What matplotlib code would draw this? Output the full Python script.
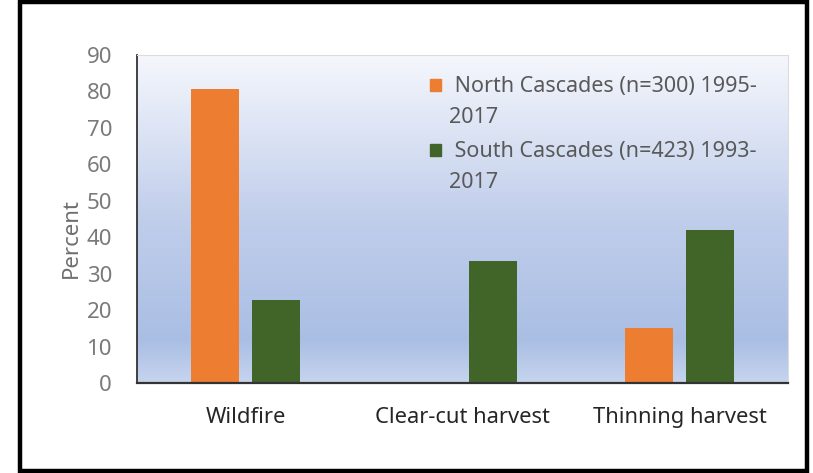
# Recreate: percent of disturbance type, North vs South Cascades
import numpy as np
import matplotlib
matplotlib.use("Agg")
import matplotlib.pyplot as plt
from matplotlib.colors import LinearSegmentedColormap
from matplotlib.patches import Rectangle

# --- Data ---
categories = ["Wildfire", "Clear-cut harvest", "Thinning harvest"]
north_vals = [80.7, 0, 15.2]
south_vals = [22.8, 33.4, 41.9]
north_label = " North Cascades (n=300) 1995-\n2017"
south_label = " South Cascades (n=423) 1993-\n2017"
y_ticks = [0, 10, 20, 30, 40, 50, 60, 70, 80, 90]

orange = "#ED7D31"
green = "#416428"

plt.rcParams['font.family'] = ['Noto Sans', 'DejaVu Sans']

fig = plt.figure(figsize=(8.13, 4.73), dpi=100)
W, H = 813, 473

# --- outer black frame ---
fig.patches.append(Rectangle((20 / W, 2.5 / H), 787 / W, 468.5 / H, transform=fig.transFigure,
                             fill=False, edgecolor="black", linewidth=3.2, zorder=0))

ax = fig.add_axes([137 / W, (H - 383) / H, (788 - 137) / W, (383 - 55) / H])

# --- gradient background ---
cmap = LinearSegmentedColormap.from_list("bg", [
    (0.00, (198/255, 212/255, 238/255)),
    (0.13, (170/255, 190/255, 228/255)),
    (0.50, (192/255, 206/255, 235/255)),
    (1.00, (245/255, 247/255, 252/255)),
])
grad = np.linspace(0, 1, 256).reshape(-1, 1)
ax.imshow(grad, aspect="auto", cmap=cmap, origin="lower",
          extent=[0, 1, 0, 1], transform=ax.transAxes, zorder=0)

# --- bars ---
x = np.arange(len(categories))
w = 0.22
off = 0.14
ax.bar(x - off, north_vals, w, color=orange, zorder=2)
ax.bar(x + off, south_vals, w, color=green, zorder=2)

ax.set_xlim(-0.5, 2.5)
ax.set_ylim(0, 90)
ax.set_yticks(y_ticks)
ax.set_xticks(x)
ax.set_xticklabels(categories, fontsize=15.8, color="#262626")
ax.tick_params(axis="y", length=0, pad=18, labelsize=16, labelcolor="#7a7a7a")
ax.tick_params(axis="x", length=0, pad=17)

ax.set_ylabel("Percent", fontsize=16, color="#6e6e6e")
ax.yaxis.set_label_coords(-0.085, 0.442)

# --- spines ---
for s in ["top", "right"]:
    ax.spines[s].set_color("#dcdcdc")
    ax.spines[s].set_linewidth(0.8)
ax.spines["left"].set_color("#333333")
ax.spines["bottom"].set_color("#333333")
ax.spines["left"].set_linewidth(1.3)
ax.spines["bottom"].set_linewidth(1.6)

# --- legend (manual) ---
legend_items = [(orange, north_label, 85), (green, south_label, 150)]
for col, lab, yc in legend_items:
    fig.patches.append(Rectangle((430 / W, (H - yc - 6) / H), 11 / W, 12 / H,
                                 transform=fig.transFigure, color=col, zorder=5))
    fig.text(449 / W, (H - yc - 17) / H, lab, fontsize=15.5, color="#595959",
             ha="left", va="center", linespacing=1.6,
             transform=fig.transFigure)

fig.savefig("out.png", dpi=100)
